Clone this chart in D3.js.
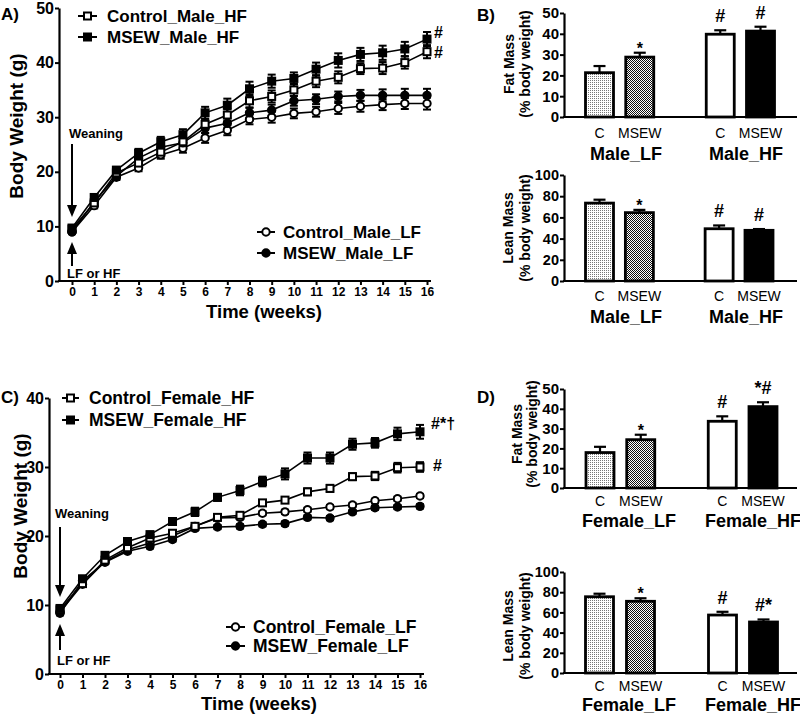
<!DOCTYPE html>
<html><head><meta charset="utf-8">
<script src="https://cdn.jsdelivr.net/npm/d3@7"></script>
<style>body{margin:0;background:#fff}svg{display:block}text{font-family:"Liberation Sans",Arial,sans-serif}</style>
</head><body><svg id="c" width="800" height="716"></svg>
<script>
// ---------------- DATA ----------------
const weeks = [0,1,2,3,4,5,6,7,8,9,10,11,12,13,14,15,16];

const maleCtrlHF = [9.5,14.3,19.8,21.6,23.6,25.5,28.7,30.4,33.0,33.8,35.0,36.6,37.3,38.9,39.0,40.0,42.0];
const maleMsewHF = [9.7,15.3,20.3,23.4,25.5,26.8,30.8,32.2,35.2,36.6,37.1,38.8,40.4,41.5,41.8,42.5,44.3];
const maleCtrlLF = [9.0,13.8,19.0,20.7,23.1,24.3,26.2,27.6,29.6,30.0,30.7,31.0,31.6,32.0,32.3,32.5,32.5];
const maleMsewLF = [9.0,14.5,19.2,22.5,24.5,25.3,28.0,28.9,30.8,31.3,33.0,33.3,33.8,34.0,34.0,34.0,34.0];
const maleCtrlHFsem = [0.4,0.5,0.6,0.7,0.8,0.9,1.0,1.1,1.2,1.1,1.1,1.1,1.1,1.0,1.1,1.1,1.2];
const maleMsewHFsem = [0.4,0.6,0.6,0.8,0.9,1.0,1.1,1.2,1.3,1.2,1.1,1.2,1.3,1.2,1.3,1.3,1.3];
const maleCtrlLFsem = [0.3,0.5,0.5,0.6,0.7,0.8,0.9,0.9,0.9,1.0,0.9,0.9,1.0,1.0,1.0,1.0,1.1];
const maleMsewLFsem = [0.3,0.5,0.5,0.6,0.7,0.8,0.9,0.9,0.9,1.0,0.9,0.9,0.9,1.0,1.1,1.2,1.2];

const femCtrlHF = [9.3,13.1,16.5,18.3,19.7,20.4,21.4,22.7,23.0,24.8,25.2,26.4,26.9,28.6,28.7,29.9,30.0];
const femMsewHF = [9.5,13.8,17.2,19.2,20.2,22.1,23.5,25.6,26.6,27.9,29.0,31.3,31.3,33.3,33.5,34.8,35.1];
const femCtrlLF = [9.0,13.0,16.3,18.0,19.0,20.0,21.4,22.6,22.7,23.3,23.5,23.8,24.2,24.5,25.1,25.4,25.8];
const femMsewLF = [8.8,13.5,16.2,17.8,18.5,19.5,21.1,21.3,21.4,21.7,21.8,22.7,22.6,23.5,24.1,24.2,24.3];
const femCtrlHFsem = [0.3,0.4,0.4,0.4,0.4,0.4,0.4,0.4,0.4,0.4,0.4,0.5,0.5,0.5,0.6,0.7,0.7];
const femMsewHFsem = [0.3,0.4,0.4,0.4,0.4,0.5,0.6,0.5,0.7,0.7,0.8,0.8,0.8,0.8,0.7,0.9,1.0];
const femCtrlLFsem = [0.3,0.3,0.3,0.3,0.3,0.3,0.3,0.3,0.3,0.3,0.3,0.3,0.3,0.3,0.3,0.3,0.3];
const femMsewLFsem = [0.3,0.3,0.3,0.3,0.3,0.3,0.3,0.3,0.3,0.3,0.3,0.3,0.3,0.3,0.3,0.3,0.3];

const barKeys = ["LF_C","LF_MSEW","","HF_C","HF_MSEW"];
const barLabels = ["C","MSEW","C","MSEW"];
const maleGroups = ["Male_LF","Male_HF"];
const femGroups = ["Female_LF","Female_HF"];

const maleFat = [21.3,28.8,39.8,41.3];
const maleFatSem = [3.2,2.1,1.9,2.1];
const maleFatSig = ["","*","#","#"];
const maleLean = [73.5,64.5,49.3,47.8];
const maleLeanSem = [3.2,2.6,3.1,1.2];
const maleLeanSig = ["","*","#","#"];
const femFat = [17.9,24.4,33.7,41.1];
const femFatSem = [2.9,2.5,2.5,2.2];
const femFatSig = ["","*","#","*#"];
const femLean = [75.5,71.0,57.4,50.5];
const femLeanSem = [3.0,3.0,3.2,2.5];
const femLeanSig = ["","*","#","#*"];

const fatTicks = [0,10,20,30,40,50];
const leanTicks = [0,20,40,60,80,100];
const weightTicksA = [0,10,20,30,40,50];
const weightTicksC = [0,10,20,30,40];

// ---------------- DRAW ----------------
const svg = d3.select('#c');
const defs = svg.append('defs');
const pl = defs.append('pattern').attr('id','lightDots').attr('patternUnits','userSpaceOnUse').attr('width',2).attr('height',2);
pl.append('rect').attr('width',2).attr('height',2).attr('fill','#fff');
pl.append('rect').attr('width',1).attr('height',1).attr('fill','#777');
const pd = defs.append('pattern').attr('id','darkDots').attr('patternUnits','userSpaceOnUse').attr('width',2).attr('height',2);
pd.append('rect').attr('width',2).attr('height',2).attr('fill','#fff');
pd.append('rect').attr('width',1).attr('height',1).attr('fill','#111');
pd.append('rect').attr('x',1).attr('y',1).attr('width',1).attr('height',1).attr('fill','#111');
const barFills = ['url(#lightDots)','url(#darkDots)','#fff','#000'];

function txt(g, x, y, s, size, weight, anchor, rot){
  const t = g.append('text').attr('x',x).attr('y',y).text(s)
    .attr('font-size',size).attr('font-weight',weight||'bold')
    .attr('text-anchor',anchor||'start').attr('fill','#000');
  if (rot) t.attr('transform',`rotate(${rot},${x},${y})`);
  return t;
}
function styleAxis(a, size){
  a.selectAll('.tick line').attr('stroke','#000').attr('stroke-width',2);
  a.selectAll('.domain').attr('stroke','#000').attr('stroke-width',2.2);
  a.selectAll('text').attr('font-size',size).attr('font-weight','bold')
   .attr('font-family','"Liberation Sans",Arial,sans-serif').attr('fill','#000');
}
function marker(g, cx, cy, shape, fill){
  if (shape==='square'){
    g.append('rect').attr('x',cx-3.5).attr('y',cy-3.5).attr('width',7).attr('height',7)
     .attr('fill',fill).attr('stroke','#000').attr('stroke-width',2);
  } else {
    g.append('circle').attr('cx',cx).attr('cy',cy).attr('r',3.7)
     .attr('fill',fill).attr('stroke','#000').attr('stroke-width',2);
  }
}
function arrow(g, x, y1, y2){ // from y1 to tip at y2
  const dir = y2>y1 ? 1 : -1;
  g.append('line').attr('x1',x).attr('x2',x).attr('y1',y1).attr('y2',y2-dir*10)
   .attr('stroke','#000').attr('stroke-width',2);
  g.append('path').attr('d',`M${x-5},${y2-dir*12}L${x+5},${y2-dir*12}L${x},${y2}Z`).attr('fill','#000');
}

function linePanel(o){
  const g = svg.append('g');
  const x = d3.scaleLinear().domain([0,16]).range([o.xL,o.xR]);
  const y = d3.scaleLinear().domain([0,o.yMax]).range([o.yB,o.yT]);
  g.append('g').attr('transform',`translate(${o.axX},0)`)
    .call(d3.axisLeft(y).tickValues(o.yTicks).tickSize(4).tickSizeOuter(0).tickPadding(1))
    .call(a=>styleAxis(a,16));
  g.append('g').attr('transform',`translate(0,${o.yB})`)
    .call(d3.axisBottom(x).tickValues(weeks).tickSize(4).tickSizeOuter(0).tickPadding(2))
    .call(a=>{styleAxis(a,12); a.select('.domain').remove();});
  g.append('line').attr('x1',o.axX-1).attr('x2',o.xEnd).attr('y1',o.yB).attr('y2',o.yB)
    .attr('stroke','#000').attr('stroke-width',2.2);
  const line = d3.line().x((d,i)=>x(weeks[i])).y(d=>y(d));
  o.series.forEach(s=>{
    g.append('path').attr('d',line(s.v)).attr('fill','none').attr('stroke','#000').attr('stroke-width',1.6);
  });
  o.series.forEach(s=>{
    s.v.forEach((v,i)=>{
      const cx = x(weeks[i]), e = s.e[i];
      const yt = y(v+e), yb = y(v-e);
      g.append('line').attr('x1',cx).attr('x2',cx).attr('y1',yt).attr('y2',yb).attr('stroke','#000').attr('stroke-width',2);
      [yt,yb].forEach(yy=>g.append('line').attr('x1',cx-4).attr('x2',cx+4).attr('y1',yy).attr('y2',yy).attr('stroke','#000').attr('stroke-width',2));
    });
  });
  o.series.forEach(s=>{
    s.v.forEach((v,i)=>marker(g,x(weeks[i]),y(v),s.shape,s.fill));
  });
  o.legend.forEach(l=>{
    g.append('line').attr('x1',l.x1).attr('x2',l.x2).attr('y1',l.y).attr('y2',l.y).attr('stroke','#000').attr('stroke-width',2);
    marker(g,(l.x1+l.x2)/2,l.y,l.shape,l.fill);
    txt(g,l.tx,l.y+6,l.label,o.legSize);
  });
  o.notes.forEach(n=>txt(g,n.x,y(n.v)+n.dy,n.s,16));
  const xa = x(0);
  txt(g,o.weanX,o.weanY,'Weaning',13);
  arrow(g,xa,o.arrDown[0],o.arrDown[1]);
  arrow(g,xa,o.arrUp[0],o.arrUp[1]);
  txt(g,o.lfX,o.lfY,'LF or HF',13);
  txt(g,o.yTitleX,(o.yTitleY),'Body Weight  (g)',19,'bold','middle',-90);
  txt(g,o.xTitleX,o.xTitleY,'Time (weeks)',18.5,'bold','middle');
  txt(g,1,o.panelY,o.panel,17);
}

linePanel({
  panel:'A)', panelY:20,
  xL:72, xR:427, xEnd:431, axX:59, yB:281, yT:8, yMax:50, yTicks:weightTicksA,
  series:[
    {v:maleCtrlLF,e:maleCtrlLFsem,shape:'circle',fill:'#fff'},
    {v:maleMsewLF,e:maleMsewLFsem,shape:'circle',fill:'#000'},
    {v:maleCtrlHF,e:maleCtrlHFsem,shape:'square',fill:'#fff'},
    {v:maleMsewHF,e:maleMsewHFsem,shape:'square',fill:'#000'}
  ],
  legSize:17,
  legend:[
    {x1:78,x2:97,y:16,shape:'square',fill:'#fff',tx:107,label:'Control_Male_HF'},
    {x1:78,x2:97,y:37,shape:'square',fill:'#000',tx:107,label:'MSEW_Male_HF'},
    {x1:257,x2:275,y:232,shape:'circle',fill:'#fff',tx:283,label:'Control_Male_LF'},
    {x1:257,x2:275,y:253,shape:'circle',fill:'#000',tx:283,label:'MSEW_Male_LF'}
  ],
  notes:[{x:434,v:maleMsewHF[16],dy:-1,s:'#'},{x:434,v:maleCtrlHF[16],dy:6,s:'#'}],
  weanX:69, weanY:138, arrDown:[144,217], arrUp:[266,242], lfX:67, lfY:278,
  yTitleX:23, yTitleY:126, xTitleX:264, xTitleY:318
});

linePanel({
  panel:'C)', panelY:403,
  xL:60, xR:420, xEnd:424, axX:49, yB:674, yT:398, yMax:40, yTicks:weightTicksC,
  series:[
    {v:femCtrlLF,e:femCtrlLFsem,shape:'circle',fill:'#fff'},
    {v:femMsewLF,e:femMsewLFsem,shape:'circle',fill:'#000'},
    {v:femCtrlHF,e:femCtrlHFsem,shape:'square',fill:'#fff'},
    {v:femMsewHF,e:femMsewHFsem,shape:'square',fill:'#000'}
  ],
  legSize:17.5,
  legend:[
    {x1:62,x2:79,y:398,shape:'square',fill:'#fff',tx:89,label:'Control_Female_HF'},
    {x1:62,x2:79,y:420,shape:'square',fill:'#000',tx:89,label:'MSEW_Female_HF'},
    {x1:226,x2:245,y:627,shape:'circle',fill:'#fff',tx:253,label:'Control_Female_LF'},
    {x1:226,x2:245,y:646,shape:'circle',fill:'#000',tx:253,label:'MSEW_Female_LF'}
  ],
  notes:[{x:431,v:femMsewHF[16],dy:-3,s:'#*†'},{x:433,v:femCtrlHF[16],dy:4,s:'#'}],
  weanX:55, weanY:518, arrDown:[527,597], arrUp:[650,624], lfX:57, lfY:665,
  yTitleX:27, yTitleY:506, xTitleX:259, xTitleY:710
});

function barPanel(o){
  const g = svg.append('g');
  const x = d3.scalePoint().domain(barKeys).range(o.cr);
  const y = d3.scaleLinear().domain([0,o.yMax]).range([o.yB,o.yT]);
  const keys = barKeys.filter(k=>k!=="");
  const bw = 28;
  keys.forEach((k,i)=>{
    const cx = x(k), v = o.vals[i], e = o.sems[i];
    g.append('line').attr('x1',cx).attr('x2',cx).attr('y1',y(v)).attr('y2',y(v+e)).attr('stroke','#000').attr('stroke-width',2.2);
    g.append('line').attr('x1',cx-6).attr('x2',cx+6).attr('y1',y(v+e)).attr('y2',y(v+e)).attr('stroke','#000').attr('stroke-width',2.2);
    g.append('rect').attr('x',cx-bw/2).attr('y',y(v)).attr('width',bw).attr('height',o.yB-y(v))
     .attr('fill',barFills[i]).attr('stroke','#000').attr('stroke-width',2.8);
    const s = o.sig[i];
    if (s){
      const hasHash = s.indexOf('#')>=0;
      txt(g,cx,y(v+e)+(hasHash?-8:1),s,hasHash?18:16,'bold','middle');
    }
    txt(g,cx,o.labY,barLabels[i],14,'normal','middle');
  });
  g.append('g').attr('transform',`translate(${o.axX},0)`)
    .call(d3.axisLeft(y).tickValues(o.ticks).tickSize(4).tickSizeOuter(0).tickPadding(1))
    .call(a=>styleAxis(a,o.tickSize));
  g.append('line').attr('x1',o.axX-1).attr('x2',797).attr('y1',o.yB).attr('y2',o.yB).attr('stroke','#000').attr('stroke-width',2.2);
  txt(g,o.g1x,o.grpY,o.groups[0],18,'bold','middle');
  txt(g,o.g2x,o.grpY,o.groups[1],18,'bold','middle');
  const ym = o.titleY;
  txt(g,o.t1x,ym,o.title,14,'bold','middle',-90);
  txt(g,o.t2x,ym,'(% body weight)',14,'bold','middle',-90);
  if (o.panel) txt(g,477,o.panelY,o.panel,17);
}

barPanel({panel:'B)',panelY:21,cr:[599.5,760.5],axX:564,yB:117,yT:13,yMax:50,ticks:fatTicks,tickSize:15,
  vals:maleFat,sems:maleFatSem,sig:maleFatSig,labY:138,grpY:160,groups:maleGroups,g1x:626,g2x:746,
  title:'Fat Mass',t1x:514,t2x:530,titleY:64});
barPanel({cr:[599.5,759],axX:564,yB:281,yT:175,yMax:100,ticks:leanTicks,tickSize:14.5,
  vals:maleLean,sems:maleLeanSem,sig:maleLeanSig,labY:301,grpY:323,groups:maleGroups,g1x:626,g2x:746,
  title:'Lean Mass',t1x:513,t2x:530,titleY:228});
barPanel({panel:'D)',panelY:403,cr:[600,763],axX:564,yB:488,yT:389,yMax:50,ticks:fatTicks,tickSize:15,
  vals:femFat,sems:femFatSem,sig:femFatSig,labY:506,grpY:527,groups:femGroups,g1x:629,g2x:753,
  title:'Fat Mass',t1x:522,t2x:537,titleY:434});
barPanel({cr:[599.5,763.5],axX:564,yB:673,yT:572,yMax:100,ticks:leanTicks,tickSize:14.5,
  vals:femLean,sems:femLeanSem,sig:femLeanSig,labY:691,grpY:711,groups:femGroups,g1x:629,g2x:753,
  title:'Lean Mass',t1x:513,t2x:530,titleY:626});
</script></body></html>
